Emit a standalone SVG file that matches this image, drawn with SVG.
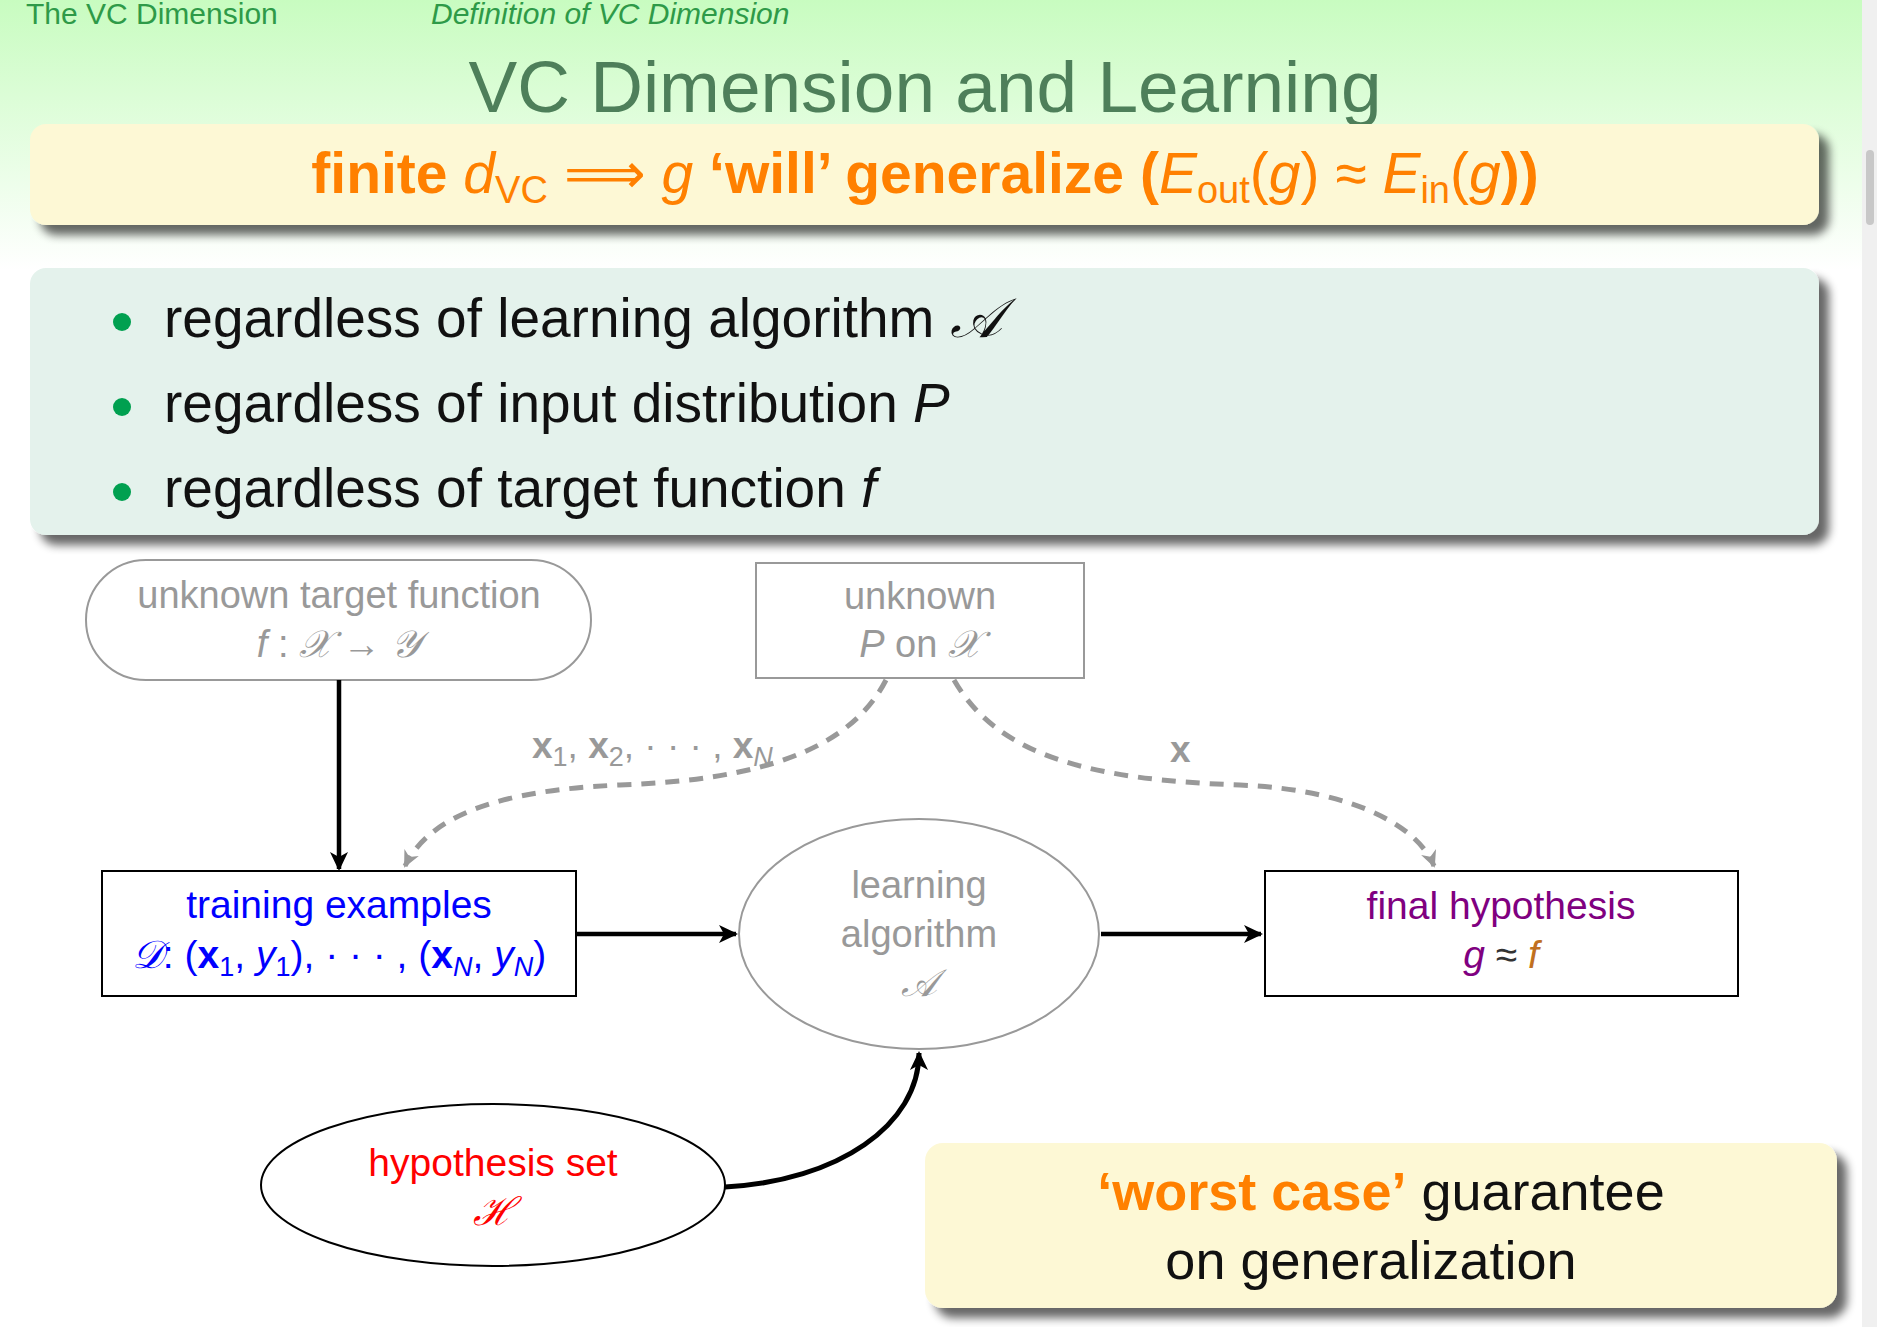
<svg xmlns="http://www.w3.org/2000/svg" width="1877" height="1327" viewBox="0 0 1877 1327">
<defs>
<linearGradient id="bg" x1="0" y1="0" x2="0" y2="1"><stop offset="0" stop-color="#c8fcc0"/><stop offset="1" stop-color="#ffffff"/></linearGradient>
<filter id="sh" x="-5%" y="-20%" width="115%" height="150%"><feGaussianBlur in="SourceAlpha" stdDeviation="5"/><feOffset dx="10" dy="10"/><feComponentTransfer><feFuncA type="linear" slope="0.6"/></feComponentTransfer><feMerge><feMergeNode/><feMergeNode in="SourceGraphic"/></feMerge></filter>
<marker id="ab" markerWidth="20" markerHeight="20" refX="17" refY="10" orient="auto" markerUnits="userSpaceOnUse"><path d="M0,1 L19,10 L0,19 L5,10 Z" fill="#000"/></marker>
<marker id="ag" markerWidth="18" markerHeight="18" refX="15" refY="9" orient="auto" markerUnits="userSpaceOnUse"><path d="M0,1 L17,9 L0,17 L5,9 Z" fill="#999"/></marker>
<style>
text{font-family:"Liberation Sans",Arial,sans-serif}
.g{fill:#999;font-size:38px}
.m{font-family:"Liberation Serif",serif;font-style:italic}
.i{font-style:italic}
.b{font-weight:bold}
.bul{fill:#111;font-size:55px}
</style>
</defs>
<rect width="1877" height="1327" fill="#fff"/>
<rect width="1862" height="270" fill="url(#bg)"/>
<rect x="1862" y="0" width="15" height="1327" fill="#f0f0f0"/>
<rect x="1866" y="150" width="8" height="75" rx="4" fill="#c8c8c8"/>
<text x="26" y="24" font-size="30" fill="#2e9a48">The VC Dimension</text>
<text x="431" y="24" font-size="30" fill="#2e9a48" class="i">Definition of VC Dimension</text>
<text x="925" y="112" font-size="73" fill="#4e7f5a" text-anchor="middle">VC Dimension and Learning</text>
<g id="thm"><rect x="30" y="124" width="1789" height="101" rx="16" fill="#fdf8d5" filter="url(#sh)"/>
<text x="925" y="193" font-size="57" fill="#ff8000" text-anchor="middle"><tspan class="b">finite </tspan><tspan class="i">d</tspan><tspan font-size="38" dy="10">VC</tspan><tspan dy="-10"> ⟹ </tspan><tspan class="i">g</tspan><tspan class="b"> ‘will’ generalize (</tspan><tspan class="i">E</tspan><tspan font-size="38" dy="10">out</tspan><tspan dy="-10">(</tspan><tspan class="i">g</tspan><tspan>) ≈ </tspan><tspan class="i">E</tspan><tspan font-size="38" dy="10">in</tspan><tspan dy="-10">(</tspan><tspan class="i">g</tspan><tspan class="b">))</tspan></text></g>
<g id="bullets"><rect x="30" y="268" width="1789" height="267" rx="16" fill="#e4f2ec" filter="url(#sh)"/>
<circle cx="122" cy="322" r="9" fill="#00a050"/><circle cx="122" cy="407" r="9" fill="#00a050"/><circle cx="122" cy="492" r="9" fill="#00a050"/>
<text x="164" y="337" class="bul">regardless of learning algorithm <tspan class="m">𝒜</tspan></text>
<text x="164" y="422" class="bul">regardless of input distribution <tspan class="i">P</tspan></text>
<text x="164" y="507" class="bul">regardless of target function <tspan class="i">f</tspan></text></g>
<g id="target"><rect x="86" y="560" width="505" height="120" rx="60" fill="#fff" stroke="#999" stroke-width="2"/>
<text x="339" y="608" class="g" text-anchor="middle">unknown target function</text>
<text x="339" y="657" class="g" text-anchor="middle"><tspan class="i">f</tspan> : <tspan class="m">𝒳</tspan> → <tspan class="m">𝒴</tspan></text></g>
<g id="dist"><rect x="756" y="563" width="328" height="115" fill="#fff" stroke="#999" stroke-width="2"/>
<text x="920" y="609" class="g" text-anchor="middle">unknown</text>
<text x="920" y="657" class="g" text-anchor="middle"><tspan class="i">P</tspan> on <tspan class="m">𝒳</tspan></text></g>
<g id="train"><rect x="102" y="871" width="474" height="125" fill="#fff" stroke="#000" stroke-width="2"/>
<text x="339" y="918" font-size="39" fill="#0000ff" text-anchor="middle">training examples</text>
<text x="339" y="968" font-size="39" fill="#0000ff" text-anchor="middle"><tspan class="m">𝒟</tspan>: (<tspan class="b">x</tspan><tspan font-size="27" dy="8">1</tspan><tspan dy="-8">, </tspan><tspan class="i">y</tspan><tspan font-size="27" dy="8">1</tspan><tspan dy="-8">), · · · , (</tspan><tspan class="b">x</tspan><tspan font-size="27" dy="8" class="i">N</tspan><tspan dy="-8">, </tspan><tspan class="i">y</tspan><tspan font-size="27" dy="8" class="i">N</tspan><tspan dy="-8">)</tspan></text></g>
<g id="algo"><ellipse cx="919" cy="934" rx="180" ry="115" fill="#fff" stroke="#999" stroke-width="2"/>
<text x="919" y="898" class="g" text-anchor="middle">learning</text>
<text x="919" y="947" class="g" text-anchor="middle">algorithm</text>
<text x="919" y="996" class="g m" text-anchor="middle">𝒜</text></g>
<g id="final"><rect x="1265" y="871" width="473" height="125" fill="#fff" stroke="#000" stroke-width="2"/>
<text x="1501" y="919" font-size="39" fill="#800080" text-anchor="middle">final hypothesis</text>
<text x="1501" y="968" font-size="39" text-anchor="middle"><tspan class="i" fill="#800080">g</tspan><tspan fill="#333"> ≈ </tspan><tspan class="i" fill="#c07020">f</tspan></text></g>
<g id="hset"><ellipse cx="493" cy="1185" rx="232" ry="81" fill="#fff" stroke="#000" stroke-width="2"/>
<text x="493" y="1176" font-size="39" fill="#ff0000" text-anchor="middle">hypothesis set</text>
<text x="493" y="1225" font-size="39" fill="#ff0000" class="m" text-anchor="middle">ℋ</text></g>
<g id="connectors" fill="none">
<path d="M339,680 L339,869" stroke="#000" stroke-width="4.5" marker-end="url(#ab)"/>
<path d="M576,934 L736,934" stroke="#000" stroke-width="4.5" marker-end="url(#ab)"/>
<path d="M1101,934 L1261,934" stroke="#000" stroke-width="4.5" marker-end="url(#ab)"/>
<path d="M725,1187 C838,1181 919,1125 919,1053" stroke="#000" stroke-width="5" marker-end="url(#ab)"/>
<path d="M886,680 C850,750 760,780 620,785 C500,790 430,815 405,866" stroke="#999" stroke-width="5" stroke-dasharray="14,10" marker-end="url(#ag)"/>
<path d="M954,680 C1000,760 1100,780 1240,785 C1360,790 1420,830 1434,866" stroke="#999" stroke-width="5" stroke-dasharray="14,10" marker-end="url(#ag)"/>
<text x="532" y="758" font-size="37" fill="#999"><tspan class="b">x</tspan><tspan font-size="27" dy="8">1</tspan><tspan dy="-8">, </tspan><tspan class="b">x</tspan><tspan font-size="27" dy="8">2</tspan><tspan dy="-8">, · · · , </tspan><tspan class="b">x</tspan><tspan font-size="27" dy="8" class="i">N</tspan></text>
<text x="1170" y="762" font-size="37" fill="#999" class="b">x</text>
</g>
<g id="worst"><rect x="925" y="1143" width="912" height="165" rx="18" fill="#fdf8d5" filter="url(#sh)"/>
<text x="1381" y="1210" font-size="54" text-anchor="middle"><tspan fill="#ff8000" class="b">‘worst case’</tspan><tspan fill="#111"> guarantee</tspan></text>
<text x="1371" y="1279" font-size="54" fill="#111" text-anchor="middle">on generalization</text></g>
</svg>
